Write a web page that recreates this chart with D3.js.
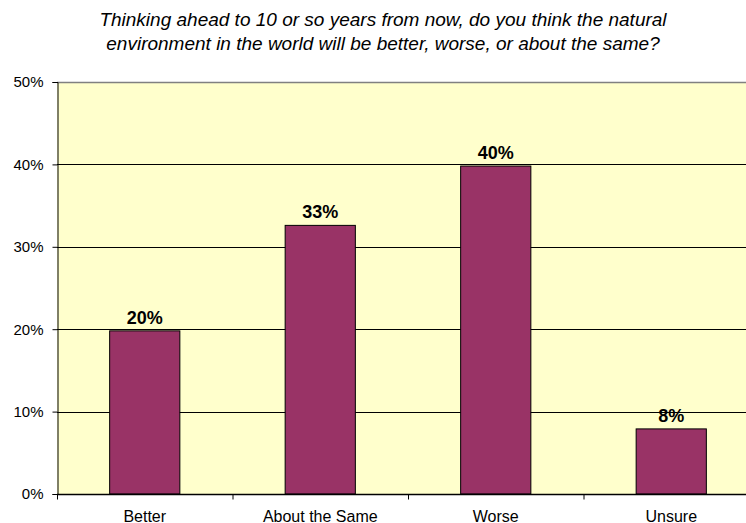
<!DOCTYPE html>
<html>
<head>
<meta charset="utf-8">
<script src="https://cdn.jsdelivr.net/npm/d3@7"></script>
<style>
  body { margin: 0; background: #fff; }
  svg { display: block; font-family: Arial, "Liberation Sans", sans-serif; }
</style>
</head>
<body>
<svg id="chart" width="746" height="523"></svg>
<script>
// Survey answers, share of respondents
const categories = ["Better", "About the Same", "Worse", "Unsure"];
const values = [0.198, 0.326, 0.398, 0.079];
const valueLabels = ["20%", "33%", "40%", "8%"];
const yTicks = [0, 0.1, 0.2, 0.3, 0.4, 0.5];
const titleLines = [
  "Thinking ahead to 10 or so years from now, do you think the natural",
  "environment in the world will be better, worse, or about the same?"
];

(function () {
  const svg = d3.select("#chart");

  const plotLeft = 57, plotTop = 82, plotBottom = 494;
  const band = 175.5;
  const plotRight = plotLeft + band * categories.length;

  const x = d3.scaleBand()
    .domain(categories)
    .range([plotLeft, plotRight])
    .paddingInner(0.6)
    .paddingOuter(0.3);

  const y = d3.scaleLinear().domain([0, 0.5]).range([plotBottom, plotTop]);

  // plot background
  svg.append("rect")
    .attr("x", plotLeft).attr("y", plotTop)
    .attr("width", plotRight - plotLeft).attr("height", plotBottom - plotTop)
    .attr("fill", "#ffffcc");

  // gridlines
  svg.append("g")
    .selectAll("line")
    .data(yTicks.filter((d) => d > 0 && d < 0.5))
    .join("line")
    .attr("x1", plotLeft).attr("x2", plotRight)
    .attr("y1", (d) => Math.round(y(d)) + 0.5)
    .attr("y2", (d) => Math.round(y(d)) + 0.5)
    .attr("stroke", "#000")
    .attr("stroke-width", 1);

  // top border
  svg.append("line")
    .attr("x1", plotLeft).attr("x2", plotRight)
    .attr("y1", plotTop + 0.5).attr("y2", plotTop + 0.5)
    .attr("stroke", "#808080").attr("stroke-width", 1.5);

  // bars
  svg.append("g")
    .selectAll("rect")
    .data(values)
    .join("rect")
    .attr("x", (d, i) => x(categories[i]))
    .attr("y", (d) => y(d))
    .attr("width", x.bandwidth())
    .attr("height", (d) => plotBottom - y(d))
    .attr("fill", "#993366")
    .attr("stroke", "#000")
    .attr("stroke-width", 1);

  // value labels
  svg.append("g")
    .selectAll("text")
    .data(values)
    .join("text")
    .attr("x", (d, i) => x(categories[i]) + x.bandwidth() / 2)
    .attr("y", (d) => y(d) - 7)
    .attr("text-anchor", "middle")
    .attr("font-size", 18)
    .attr("font-weight", "bold")
    .attr("fill", "#000")
    .text((d, i) => valueLabels[i]);

  // y axis
  const yAxis = svg.append("g")
    .attr("transform", `translate(${plotLeft + 0.5},0)`)
    .call(d3.axisLeft(y).tickValues(yTicks).tickFormat(d3.format(".0%")).tickSize(5).tickPadding(9));
  yAxis.select(".domain").attr("stroke", "#000");
  yAxis.selectAll("text").attr("font-size", 15).attr("fill", "#000")
    .attr("font-family", "Arial, 'Liberation Sans', sans-serif");

  // x axis with ticks between categories
  const xAxis = svg.append("g").attr("transform", `translate(0,${plotBottom + 0.5})`);
  xAxis.append("line")
    .attr("x1", plotLeft).attr("x2", plotRight)
    .attr("stroke", "#000").attr("stroke-width", 1.5);
  xAxis.selectAll("line.tick")
    .data(d3.range(categories.length + 1))
    .join("line")
    .attr("class", "tick")
    .attr("x1", (i) => plotLeft + i * band + 0.5)
    .attr("x2", (i) => plotLeft + i * band + 0.5)
    .attr("y1", 0).attr("y2", 5)
    .attr("stroke", "#000");
  xAxis.selectAll("text")
    .data(categories)
    .join("text")
    .attr("x", (d) => x(d) + x.bandwidth() / 2)
    .attr("y", 27)
    .attr("text-anchor", "middle")
    .attr("font-size", 16)
    .attr("fill", "#000")
    .text((d) => d);

  // title
  svg.append("g")
    .selectAll("text")
    .data(titleLines)
    .join("text")
    .attr("x", 383)
    .attr("y", (d, i) => 26 + i * 23.5)
    .attr("text-anchor", "middle")
    .attr("font-size", 19)
    .attr("font-style", "italic")
    .attr("fill", "#000")
    .text((d) => d);
})();
</script>
</body>
</html>
